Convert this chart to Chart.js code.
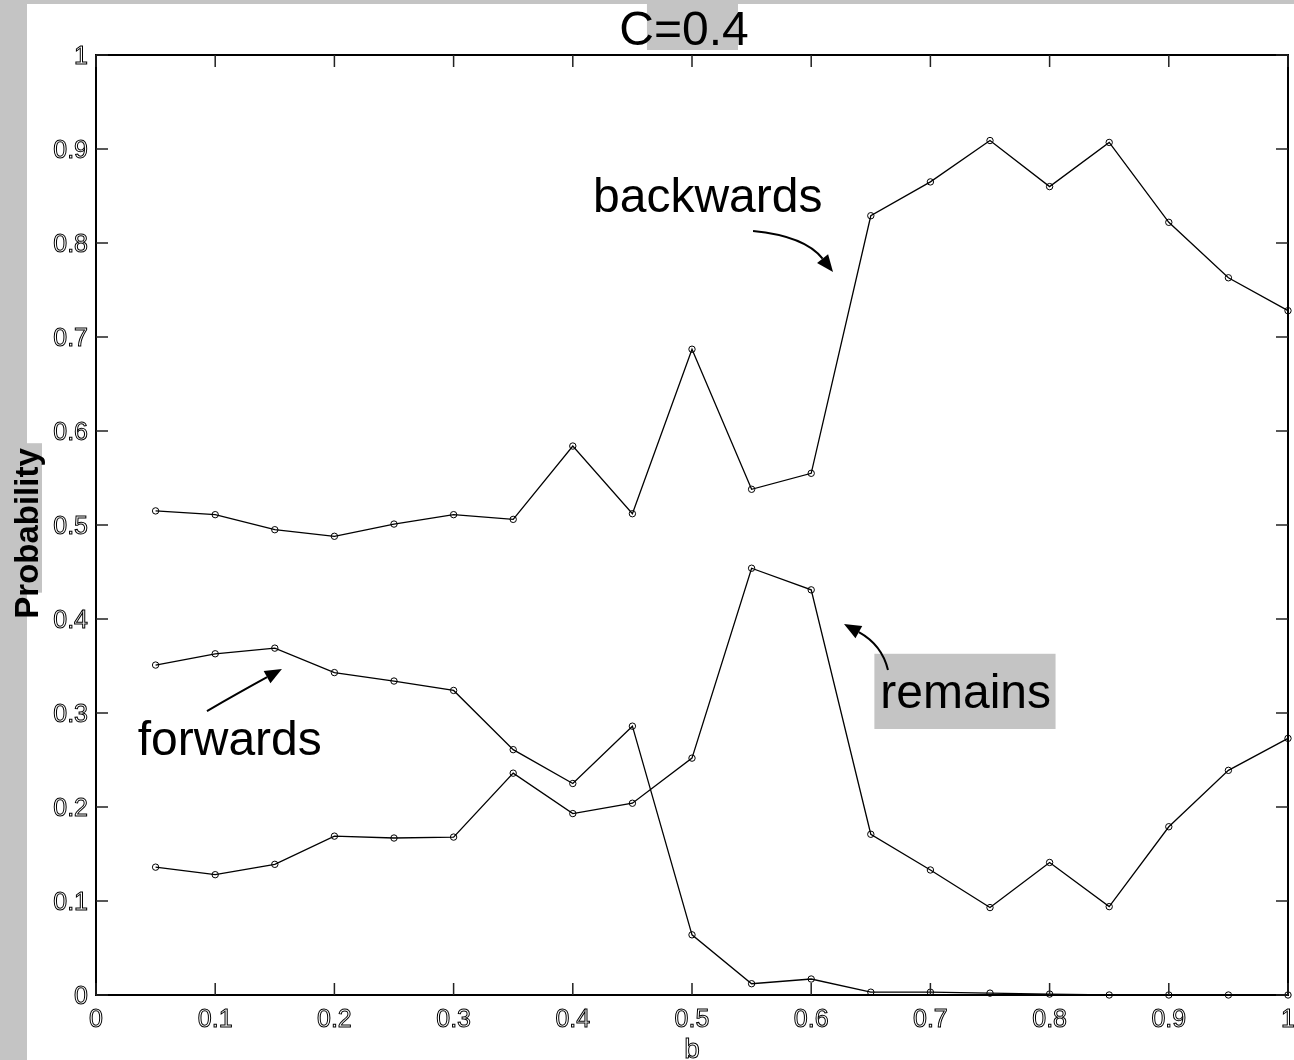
<!DOCTYPE html>
<html>
<head>
<meta charset="utf-8">
<script src="https://cdn.jsdelivr.net/npm/chart.js@4.4.1/dist/chart.umd.min.js"></script>
<style>
  html, body { margin: 0; padding: 0; background: #c4c4c4; }
  canvas { display: block; }
</style>
</head>
<body>
<canvas id="probChart" width="1294" height="1060"></canvas>
<script>
// b values on the x axis
const bValues = [0.05, 0.1, 0.15, 0.2, 0.25, 0.3, 0.35, 0.4, 0.45, 0.5,
                 0.55, 0.6, 0.65, 0.7, 0.75, 0.8, 0.85, 0.9, 0.95, 1.0];

const backwards = [0.515, 0.511, 0.495, 0.488, 0.501, 0.511, 0.506, 0.584, 0.512, 0.687,
                   0.538, 0.555, 0.829, 0.865, 0.909, 0.860, 0.907, 0.822, 0.763, 0.728];
const forwards = [0.351, 0.363, 0.369, 0.343, 0.334, 0.324, 0.261, 0.225, 0.286, 0.064,
                  0.012, 0.017, 0.003, 0.003, 0.002, 0.001, 0, 0, 0, 0];
const remains = [0.136, 0.128, 0.139, 0.169, 0.167, 0.168, 0.236, 0.193, 0.204, 0.252,
                 0.454, 0.431, 0.171, 0.133, 0.093, 0.141, 0.094, 0.179, 0.239, 0.273];

const tickValues = [0, 0.1, 0.2, 0.3, 0.4, 0.5, 0.6, 0.7, 0.8, 0.9, 1];
const tickLabels = ['0', '0.1', '0.2', '0.3', '0.4', '0.5', '0.6', '0.7', '0.8', '0.9', '1'];

const titleText = 'C=0.4';
const xLabel = 'b';
const yLabel = 'Probability';

// annotation labels + arrows, in data units
const notes = [
  { text: 'backwards', x: 0.417, y: 0.833 },
  { text: 'remains', x: 0.658, y: 0.305, box: [0.653, 0.363, 0.805, 0.283] },
  { text: 'forwards', x: 0.035, y: 0.255 }
];
const arrows = [
  { from: [0.5512, 0.8128], via: [0.5948, 0.8074], to: [0.6183, 0.7691] },
  { from: [0.6644, 0.3457], via: [0.6594, 0.3723], to: [0.6275, 0.3947] },
  { from: [0.0931, 0.3021], via: [0.1208, 0.3223], to: [0.1560, 0.3468] }
];

const GREY = '#c4c4c4';
const FONT = '"Liberation Sans", Arial, Helvetica, sans-serif';

function outlineText(ctx, text, x, y) {
  ctx.lineWidth = 1;
  ctx.strokeStyle = '#000';
  ctx.fillStyle = '#fff';
  ctx.fillText(text, x, y);
  ctx.strokeText(text, x, y);
}

function curvedArrow(ctx, x0, y0, cx, cy, x1, y1) {
  const ang = Math.atan2(y1 - cy, x1 - cx);
  const headLen = 17, headW = 7;
  const bx = x1 - headLen * Math.cos(ang);
  const by = y1 - headLen * Math.sin(ang);
  ctx.strokeStyle = '#000';
  ctx.fillStyle = '#000';
  ctx.lineWidth = 2;
  ctx.beginPath();
  ctx.moveTo(x0, y0);
  ctx.quadraticCurveTo(cx, cy, bx, by);
  ctx.stroke();
  ctx.beginPath();
  ctx.moveTo(x1, y1);
  ctx.lineTo(bx + headW * Math.sin(ang), by - headW * Math.cos(ang));
  ctx.lineTo(bx - headW * Math.sin(ang), by + headW * Math.cos(ang));
  ctx.closePath();
  ctx.fill();
}

const figurePlugin = {
  id: 'figure',
  beforeDraw(chart) {
    const { ctx, chartArea: a, scales: { x, y } } = chart;
    ctx.save();
    ctx.fillStyle = GREY;
    ctx.fillRect(0, 0, chart.width, chart.height);
    ctx.fillStyle = '#fff';
    ctx.fillRect(27, 4, chart.width - 27, chart.height - 4);
    // grey highlight patches
    ctx.fillStyle = GREY;
    ctx.fillRect(x.getPixelForValue(0.4622), 0, x.getPixelForValue(0.5386) - x.getPixelForValue(0.4622), a.top - 5);
    ctx.fillRect(27, y.getPixelForValue(0.587), 15, y.getPixelForValue(0.428) - y.getPixelForValue(0.587));
    notes.forEach(n => {
      if (!n.box) return;
      const l = x.getPixelForValue(n.box[0]), t = y.getPixelForValue(n.box[1]);
      const r = x.getPixelForValue(n.box[2]), b = y.getPixelForValue(n.box[3]);
      ctx.fillRect(l, t, r - l, b - t);
    });
    ctx.restore();
  },
  afterDraw(chart) {
    const { ctx, chartArea: a, scales: { x, y } } = chart;
    ctx.save();

    // axes box
    ctx.strokeStyle = '#000';
    ctx.lineWidth = 2;
    ctx.strokeRect(a.left, a.top, a.right - a.left, a.bottom - a.top);

    // inward ticks on all four sides
    ctx.lineWidth = 1.5;
    ctx.strokeStyle = '#222';
    ctx.beginPath();
    tickValues.forEach(v => {
      const px = x.getPixelForValue(v);
      const py = y.getPixelForValue(v);
      ctx.moveTo(px, a.bottom); ctx.lineTo(px, a.bottom - 12);
      ctx.moveTo(px, a.top); ctx.lineTo(px, a.top + 12);
      ctx.moveTo(a.left, py); ctx.lineTo(a.left + 12, py);
      ctx.moveTo(a.right, py); ctx.lineTo(a.right - 12, py);
    });
    ctx.stroke();

    // outlined tick labels
    ctx.font = '25px ' + FONT;
    ctx.textBaseline = 'alphabetic';
    ctx.textAlign = 'center';
    tickValues.forEach((v, i) => outlineText(ctx, tickLabels[i], x.getPixelForValue(v), a.bottom + 32));
    ctx.textAlign = 'right';
    tickValues.forEach((v, i) => outlineText(ctx, tickLabels[i], a.left - 8, y.getPixelForValue(v) + 9));

    // x axis label
    ctx.font = '28px ' + FONT;
    ctx.textAlign = 'center';
    outlineText(ctx, xLabel, x.getPixelForValue(0.5), a.bottom + 63);

    // y axis label
    ctx.save();
    ctx.translate(38, y.getPixelForValue(0.491));
    ctx.rotate(-Math.PI / 2);
    ctx.font = 'bold 33px ' + FONT;
    ctx.fillStyle = '#000';
    ctx.textAlign = 'center';
    ctx.fillText(yLabel, 0, 0);
    ctx.restore();

    // title
    ctx.font = '48px ' + FONT;
    ctx.fillStyle = '#000';
    ctx.textAlign = 'center';
    ctx.fillText(titleText, x.getPixelForValue(0.4933), a.top - 10);

    // annotations
    ctx.textAlign = 'left';
    notes.forEach(n => ctx.fillText(n.text, x.getPixelForValue(n.x), y.getPixelForValue(n.y)));
    arrows.forEach(ar => curvedArrow(ctx,
      x.getPixelForValue(ar.from[0]), y.getPixelForValue(ar.from[1]),
      x.getPixelForValue(ar.via[0]), y.getPixelForValue(ar.via[1]),
      x.getPixelForValue(ar.to[0]), y.getPixelForValue(ar.to[1])));

    ctx.restore();
  }
};

const lineStyle = {
  borderColor: '#000',
  borderWidth: 1.3,
  pointRadius: 3.2,
  pointBorderWidth: 1,
  pointBorderColor: '#000',
  pointBackgroundColor: 'rgba(0,0,0,0)',
  pointStyle: 'circle',
  tension: 0,
  fill: false,
  clip: false
};

const toPoints = arr => bValues.map((b, i) => ({ x: b, y: arr[i] }));

new Chart(document.getElementById('probChart'), {
  type: 'line',
  data: {
    datasets: [
      Object.assign({ label: 'backwards', data: toPoints(backwards) }, lineStyle),
      Object.assign({ label: 'forwards', data: toPoints(forwards) }, lineStyle),
      Object.assign({ label: 'remains', data: toPoints(remains) }, lineStyle)
    ]
  },
  options: {
    responsive: false,
    animation: false,
    layout: { padding: { left: 96, right: 6, top: 55, bottom: 65 } },
    plugins: {
      legend: { display: false },
      tooltip: { enabled: false },
      title: { display: false }
    },
    scales: {
      x: { type: 'linear', min: 0, max: 1, display: false },
      y: { type: 'linear', min: 0, max: 1, display: false }
    }
  },
  plugins: [figurePlugin]
});
</script>
</body>
</html>
